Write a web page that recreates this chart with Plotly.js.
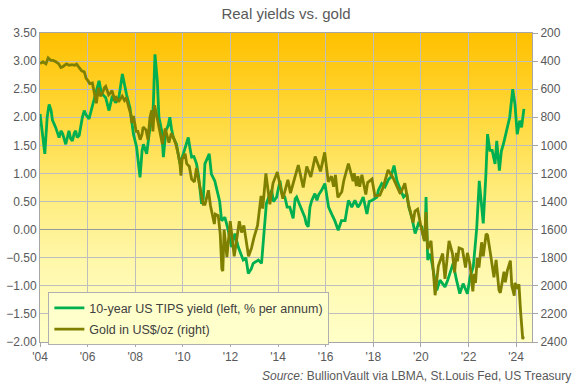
<!DOCTYPE html>
<html>
<head>
<meta charset="utf-8">
<script src="https://cdn.plot.ly/plotly-3.0.1.min.js"></script>
<style>html,body{margin:0;padding:0;background:#fff;}#chart{width:576px;height:386px;}</style>
</head>
<body>
<div id="chart"></div>
<script>
// 10-year US TIPS yield (% p.a.)
const tipsDates = ["2004-01-02","2004-02-05","2004-03-15","2004-04-20","2004-05-20","2004-06-20","2004-07-10","2004-08-28","2004-10-20","2004-11-20","2004-12-15",
"2005-01-30","2005-03-20","2005-04-15","2005-05-12","2005-06-10","2005-07-01","2005-07-25","2005-08-25","2005-10-12","2005-11-10","2005-12-05",
"2006-01-22","2006-02-20","2006-04-08","2006-05-10","2006-06-25","2006-07-20","2006-08-15","2006-10-05","2006-11-25","2006-12-20",
"2007-01-15","2007-03-05","2007-04-25","2007-06-18","2007-07-20","2007-08-20","2007-10-12","2007-11-10","2007-12-05",
"2008-01-22","2008-02-15","2008-03-15","2008-04-15","2008-05-05","2008-06-25","2008-07-20","2008-08-15","2008-09-20","2008-10-05","2008-10-30","2008-11-20","2008-12-05","2008-12-30",
"2009-02-10","2009-03-08","2009-04-15","2009-05-20","2009-06-15","2009-07-10","2009-08-08","2009-09-25","2009-11-18",
"2010-01-08","2010-02-15","2010-03-25","2010-04-20","2010-05-15","2010-06-20","2010-07-30","2010-08-30","2010-10-15","2010-11-10","2010-12-05",
"2011-02-10","2011-03-15","2011-05-05","2011-06-28","2011-07-20","2011-08-18","2011-10-08","2011-11-28",
"2012-01-18","2012-03-10","2012-04-30","2012-07-15","2012-08-25","2012-10-01","2012-11-15","2012-12-15",
"2013-03-05","2013-04-22","2013-05-20","2013-06-15","2013-07-05","2013-08-15","2013-09-25","2013-10-20","2013-12-10",
"2014-01-30","2014-02-28","2014-04-15","2014-05-20","2014-06-30","2014-08-20","2014-09-20","2014-10-12","2014-11-25","2014-12-30",
"2015-02-15","2015-03-10","2015-04-08","2015-05-05","2015-06-02","2015-07-20","2015-08-20","2015-09-15","2015-10-30","2015-12-20",
"2016-01-25","2016-02-15","2016-04-01","2016-05-20","2016-07-12","2016-08-30","2016-10-25","2016-11-30","2016-12-15",
"2017-02-05","2017-03-25","2017-05-10","2017-06-10","2017-07-30","2017-09-25","2017-10-30","2017-12-10",
"2018-02-25","2018-03-20","2018-05-10","2018-06-30","2018-08-25","2018-09-25","2018-11-15","2018-12-30",
"2019-02-25","2019-04-10","2019-05-30","2019-06-30","2019-08-15","2019-10-05","2019-11-25",
"2020-01-15","2020-02-10","2020-03-05","2020-03-20","2020-04-15","2020-05-25","2020-07-15","2020-09-01","2020-10-20",
"2021-01-05","2021-02-15","2021-03-20","2021-05-10","2021-07-01","2021-08-20","2021-10-10","2021-12-15",
"2022-01-25","2022-03-15","2022-04-20","2022-05-08","2022-06-15","2022-07-10","2022-08-15","2022-09-25","2022-10-20","2022-11-25","2022-12-30",
"2023-02-12","2023-03-10","2023-04-20","2023-05-20","2023-06-20","2023-08-12","2023-09-25","2023-11-10","2023-12-15",
"2024-01-18","2024-02-25","2024-03-25","2024-04-30"];
const tipsValues = [2.06,1.76,1.35,2.00,2.23,2.12,1.95,1.82,1.64,1.76,1.70,
1.52,1.76,1.62,1.58,1.72,1.76,1.64,1.68,2.00,2.12,2.05,
1.97,2.10,2.29,2.45,2.65,2.50,2.41,2.35,2.12,2.25,
2.38,2.26,2.35,2.77,2.55,2.41,2.17,1.85,1.70,
1.47,1.25,0.93,1.40,1.52,1.35,1.60,1.82,1.95,2.23,3.12,2.90,2.65,2.00,
1.76,1.29,1.76,1.85,2.00,1.80,1.64,1.52,1.17,
1.35,1.50,1.64,1.45,1.29,1.30,1.17,0.95,0.46,0.55,1.17,
1.35,0.99,0.87,0.58,0.50,0.16,0.22,-0.01,
-0.31,-0.07,-0.31,-0.54,-0.50,-0.78,-0.70,-0.60,
-0.54,-0.60,-0.20,0.16,0.46,0.60,0.70,0.50,0.58,
0.87,0.65,0.58,0.40,0.40,0.20,0.55,0.58,0.45,0.35,
0.22,0.10,0.05,0.40,0.52,0.64,0.52,0.62,0.70,0.82,
0.58,0.40,0.28,0.16,-0.01,0.16,0.16,0.45,0.52,
0.40,0.52,0.40,0.45,0.58,0.28,0.50,0.52,
0.58,0.70,0.82,0.76,0.90,0.93,1.14,0.87,
0.70,0.58,0.64,0.40,0.22,-0.07,0.11,
0.05,-0.13,-0.20,0.58,-0.54,-0.43,-0.78,-1.08,-0.90,
-1.02,-0.90,-0.78,-0.60,-0.90,-1.14,-0.96,-1.14,
-0.84,-0.66,-0.20,0.05,0.87,0.60,0.11,0.99,1.70,1.41,1.41,
1.17,1.58,1.05,1.40,1.52,1.76,2.00,2.50,2.23,
1.70,1.94,1.82,2.15];

// Gold price in US$/oz
const goldDates = ["2004-01-02","2004-02-15","2004-04-01","2004-05-05","2004-06-15","2004-07-20","2004-09-01","2004-10-15","2004-11-15","2004-12-15",
"2005-02-10","2005-03-20","2005-05-05","2005-06-15","2005-07-15","2005-08-15","2005-10-01","2005-11-10","2005-12-10",
"2006-01-01","2006-02-01","2006-03-15","2006-04-08","2006-05-15","2006-06-15","2006-07-15","2006-08-15","2006-09-15","2006-10-05","2006-11-20","2006-12-20",
"2007-01-10","2007-02-25","2007-03-10","2007-04-20","2007-06-15","2007-07-20","2007-08-17","2007-09-25","2007-10-25","2007-11-08","2007-12-05",
"2008-01-15","2008-02-10","2008-03-17","2008-04-15","2008-05-01","2008-06-15","2008-07-15","2008-08-15","2008-09-10","2008-09-28","2008-10-24","2008-11-28","2008-12-30",
"2009-02-20","2009-04-05","2009-06-01","2009-07-08","2009-08-15","2009-09-20","2009-10-20","2009-11-15","2009-12-03","2009-12-20",
"2010-02-05","2010-03-01","2010-04-10","2010-05-15","2010-06-28","2010-07-28","2010-08-30","2010-10-15","2010-11-10","2010-12-07",
"2011-01-28","2011-03-01","2011-04-29","2011-05-15","2011-06-28","2011-07-28","2011-08-22","2011-09-06","2011-09-26","2011-11-08","2011-12-29",
"2012-02-28","2012-05-16","2012-06-20","2012-07-25","2012-10-05","2012-11-20","2012-12-28",
"2013-02-20","2013-04-15","2013-05-10","2013-06-28","2013-08-28","2013-10-15","2013-12-20",
"2014-03-15","2014-06-01","2014-07-10","2014-10-05","2014-11-07",
"2015-01-22","2015-03-17","2015-05-18","2015-07-24","2015-10-14","2015-12-17",
"2016-02-11","2016-03-30","2016-05-02","2016-05-30","2016-07-06","2016-09-05","2016-10-06","2016-12-15",
"2017-02-25","2017-03-14","2017-04-17","2017-05-09","2017-06-06","2017-07-10","2017-09-08","2017-10-06","2017-12-12",
"2018-01-25","2018-04-11","2018-06-01","2018-08-16","2018-10-30",
"2019-02-20","2019-04-30","2019-06-25","2019-09-04","2019-10-01","2019-11-12",
"2020-01-08","2020-02-24","2020-03-19","2020-04-14","2020-06-05","2020-07-28","2020-08-06","2020-09-25","2020-11-30",
"2021-01-05","2021-03-08","2021-04-30","2021-06-01","2021-06-29","2021-07-15","2021-08-09","2021-09-29","2021-11-16","2021-12-15",
"2022-01-25","2022-03-08","2022-03-29","2022-04-18","2022-05-16","2022-06-10","2022-07-21","2022-08-15","2022-09-28","2022-10-20","2022-11-30",
"2023-01-26","2023-02-28","2023-04-13","2023-05-04","2023-06-29","2023-07-20","2023-08-21","2023-10-05","2023-10-27","2023-12-04","2023-12-13",
"2024-01-17","2024-02-14","2024-03-08","2024-04-12","2024-04-22"];
const goldValues = [418,405,420,378,395,395,405,420,446,440,
420,430,425,430,422,440,470,477,525,
536,560,555,620,700,590,650,630,590,580,640,625,
610,685,650,690,650,680,660,730,780,840,790,
900,900,960,920,870,890,960,800,750,900,715,810,870,
990,880,980,915,950,1000,1060,1120,1215,1100,
1060,1130,1150,1240,1260,1160,1245,1370,1420,1420,
1320,1430,1560,1490,1500,1630,1880,1895,1600,1795,1540,
1790,1540,1620,1570,1790,1730,1655,
1570,1360,1450,1200,1420,1270,1190,
1380,1245,1340,1190,1140,
1300,1150,1225,1080,1185,1050,
1260,1220,1295,1210,1370,1330,1250,1130,
1255,1198,1290,1220,1295,1210,1350,1265,1240,
1360,1355,1300,1175,1230,
1345,1270,1420,1550,1470,1455,
1590,1680,1475,1740,1680,1970,2067,1860,1770,
1950,1680,1770,1905,1765,1825,1730,1740,1870,1765,
1850,2040,1915,1980,1800,1870,1690,1790,1630,1640,1760,
1940,1815,2030,2050,1900,1975,1890,1820,2000,2070,1980,
2010,1990,2170,2380,2360];

const leftTicks = [-2,-1.5,-1,-0.5,0,0.5,1,1.5,2,2.5,3,3.5];
const rightTicks = [200,400,600,800,1000,1200,1400,1600,1800,2000,2200,2400];

const gradSvg = '<svg xmlns="http://www.w3.org/2000/svg" width="10" height="100" viewBox="0 0 10 100" preserveAspectRatio="none">' +
  '<defs><linearGradient id="g" x1="0" y1="0" x2="0" y2="1">' +
  '<stop offset="0" stop-color="#FFC000"/><stop offset="0.25" stop-color="#FFD735"/>' +
  '<stop offset="0.5" stop-color="#FFEB78"/><stop offset="0.75" stop-color="#FFF8AC"/>' +
  '<stop offset="1" stop-color="#FFFFC8"/></linearGradient></defs>' +
  '<rect x="0" y="0" width="10" height="100" fill="url(#g)"/></svg>';
const gradSrc = 'data:image/svg+xml;base64,' + btoa(gradSvg);

const txt = '#595959';
const font = 'Liberation Sans, Arial, sans-serif';

const traces = [
  {x: tipsDates, y: tipsValues, type: 'scatter', mode: 'lines', name: '10-year US TIPS yield (left, % per annum)',
   legendgroup: 'a', line: {color: '#00B050', width: 2.8}, yaxis: 'y'},
  {x: goldDates, y: goldValues, type: 'scatter', mode: 'lines', name: 'Gold in US$/oz (right)',
   legendgroup: 'b', line: {color: '#808000', width: 2.8}, yaxis: 'y2'}
];

const layout = {
  width: 576, height: 386,
  margin: {l: 40, r: 44, t: 33, b: 44},
  paper_bgcolor: '#ffffff',
  plot_bgcolor: 'rgba(0,0,0,0)',
  font: {family: font, size: 12, color: txt},
  title: {text: 'Real yields vs. gold', font: {family: font, size: 15, color: txt}, x: 0.5, xref: 'paper', xanchor: 'center', y: 0.965, yref: 'container', yanchor: 'middle'},
  showlegend: true,
  legend: {x: 0.017, y: 0.161, xanchor: 'left', yanchor: 'top', bgcolor: '#FFFFCC', bordercolor: '#B0B0B0', borderwidth: 1,
           font: {family: font, size: 12.5, color: '#404040'}, itemwidth: 30, traceorder: 'grouped', tracegroupgap: 2},
  xaxis: {type: 'date', range: ['2004-01-01', '2024-09-01'], tick0: '2004-01-01', dtick: 'M24', tickformat: "'%y",
          showgrid: true, gridcolor: '#BEBEBE', gridwidth: 1, showline: true, linecolor: '#A6A6A6', linewidth: 1, mirror: true,
          ticks: 'outside', ticklen: 4, tickcolor: '#A6A6A6', tickfont: {family: font, size: 12, color: txt}, zeroline: false, fixedrange: true},
  yaxis: {range: [-2, 3.5], tickvals: leftTicks, tickformat: '.2f', showgrid: true, gridcolor: '#BEBEBE', gridwidth: 1,
          zeroline: true, zerolinecolor: '#9A9A9A', zerolinewidth: 1.5,
          showline: true, linecolor: '#A6A6A6', linewidth: 1, mirror: true, ticks: '', tickfont: {family: font, size: 12, color: txt}},
  yaxis2: {range: [2400, 200], tickvals: rightTicks, overlaying: 'y', side: 'right', showgrid: false, zeroline: false,
           showline: true, linecolor: '#A6A6A6', linewidth: 1, ticks: 'outside', ticklen: 5, tickcolor: '#A6A6A6',
           tickfont: {family: font, size: 12, color: txt}},
  images: [{source: gradSrc, xref: 'paper', yref: 'paper', x: 0, y: 1, sizex: 1, sizey: 1, sizing: 'stretch',
            xanchor: 'left', yanchor: 'top', layer: 'below'}],
  annotations: [{text: '<i>Source:</i> BullionVault via LBMA, St.Louis Fed, US Treasury', xref: 'paper', yref: 'paper',
                 x: 1.083, y: -0.11, xanchor: 'right', yanchor: 'middle', showarrow: false,
                 font: {family: font, size: 12, color: txt}}]
};

Plotly.newPlot('chart', traces, layout, {displayModeBar: false, staticPlot: true});
</script>
</body>
</html>
